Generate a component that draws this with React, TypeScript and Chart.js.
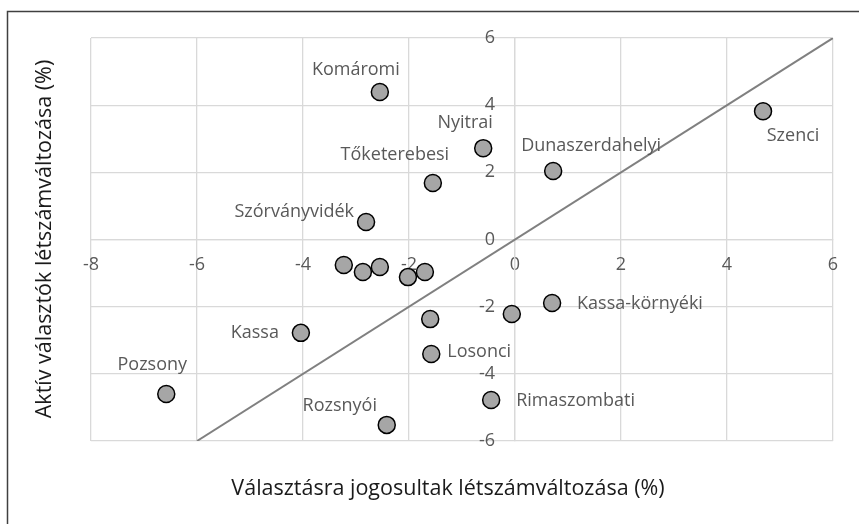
import React, { useEffect, useRef } from 'react';
import { Chart, registerables } from 'chart.js';

Chart.register(...registerables);

// ---- data ----
const districts = [
  'Pozsony', 'Kassa', 'Rozsnyói', 'Komáromi', 'Szórványvidék', 'Tőketerebesi',
  'Nyitrai', 'Dunaszerdahelyi', 'Szenci', 'Kassa-környéki', 'Losonci', 'Rimaszombati',
  '', '', '', '', '', '', '',
];
const eligibleChange = [
  -6.58, -4.04, -2.42, -2.55, -2.81, -1.55,
  -0.60, 0.72, 4.68, 0.70, -1.58, -0.45,
  -0.06, -1.60, -3.23, -2.87, -2.55, -2.02, -1.70,
];
const activeChange = [
  -4.60, -2.78, -5.52, 4.39, 0.52, 1.68,
  2.72, 2.04, 3.82, -1.89, -3.41, -4.78,
  -2.22, -2.37, -0.76, -0.97, -0.82, -1.12, -0.97,
];
const referenceLineX = [-6, 6];
const referenceLineY = [-6, 6];
const xTickValues = [-8, -6, -4, -2, 0, 2, 4, 6];
const yTickValues = [-6, -4, -2, 0, 2, 4, 6];
const xAxisTitle = 'Választásra jogosultak létszámváltozása (%)';
const yAxisTitle = 'Aktív választók létszámváltozása (%)';

// ---- label placement (styling, pixel offsets from the point) ----
const labelPlacement: Record<string, [number, number, CanvasTextAlign]> = {
  'Pozsony': [-14, -29, 'center'],
  'Kassa': [-22, 0, 'right'],
  'Rozsnyói': [-47, -19, 'center'],
  'Komáromi': [-24, -22, 'center'],
  'Szórványvidék': [-12, -10, 'right'],
  'Tőketerebesi': [-38, -28, 'center'],
  'Nyitrai': [-18, -25, 'center'],
  'Dunaszerdahelyi': [38, -25, 'center'],
  'Szenci': [30, 25, 'center'],
  'Kassa-környéki': [25, 1, 'left'],
  'Losonci': [16, -2, 'left'],
  'Rimaszombati': [25, 1, 'left'],
};

const FONT = '"Open Sans", sans-serif';
const TICK_COLOR = '#595959';

const decorPlugin = {
  id: 'decor',
  beforeDatasetsDraw(chart: any) {
    // y-axis tick labels, placed left of the crossing axis
    const ctx = chart.ctx;
    const xs = chart.scales.x;
    const ys = chart.scales.y;
    const axisX = xs.getPixelForValue(0);
    ctx.save();
    ctx.font = `18px ${FONT}`;
    ctx.fillStyle = TICK_COLOR;
    ctx.textAlign = 'right';
    ctx.textBaseline = 'middle';
    yTickValues.forEach((v) => {
      ctx.fillText(String(v), axisX - 20, ys.getPixelForValue(v));
    });
    ctx.restore();
  },
  afterDatasetsDraw(chart: any) {
    const ctx = chart.ctx;
    const meta = chart.getDatasetMeta(0);
    ctx.save();
    ctx.font = `18px ${FONT}`;
    ctx.fillStyle = '#595959';
    ctx.textBaseline = 'middle';
    meta.data.forEach((el: any, i: number) => {
      const name = districts[i];
      if (!name) return;
      const p = labelPlacement[name] || [0, -20, 'center'];
      ctx.textAlign = p[2];
      ctx.fillText(name, el.x + p[0], el.y + p[1]);
    });
    ctx.restore();
  },
  afterDraw(chart: any) {
    const ctx = chart.ctx;
    const a = chart.chartArea;
    ctx.save();
    ctx.fillStyle = '#1a1a1a';
    ctx.font = `21.5px ${FONT}`;
    ctx.textAlign = 'center';
    ctx.textBaseline = 'middle';
    ctx.fillText(xAxisTitle, 448, 489);
    ctx.translate(45, 239);
    ctx.rotate(-Math.PI / 2);
    ctx.fillText(yAxisTitle, 0, 0);
    ctx.restore();
    ctx.save();
    ctx.strokeStyle = '#404040';
    ctx.lineWidth = 1.5;
    ctx.strokeRect(7.5, 11.5, 1000, 1000);
    ctx.restore();
  },
};

export default function App() {
  const ref = useRef<HTMLCanvasElement>(null);
  useEffect(() => {
    if (!ref.current) return;
    const chart = new Chart(ref.current, {
      type: 'scatter',
      data: {
        datasets: [
          {
            label: 'Járások',
            data: eligibleChange.map((x, i) => ({ x, y: activeChange[i] })),
            backgroundColor: '#a6a6a6',
            borderColor: '#000000',
            borderWidth: 1.5,
            pointRadius: 8.5,
            pointHoverRadius: 8.5,
          },
          {
            type: 'line',
            label: 'x = y',
            data: referenceLineX.map((x, i) => ({ x, y: referenceLineY[i] })),
            borderColor: '#808080',
            borderWidth: 2,
            pointRadius: 0,
            fill: false,
          },
        ],
      },
      options: {
        animation: false,
        responsive: false,
        layout: { padding: { left: 91, top: 38, right: 26, bottom: 83 } },
        plugins: { legend: { display: false }, tooltip: { enabled: false } },
        scales: {
          x: {
            type: 'linear',
            position: { y: 0 },
            min: xTickValues[0],
            max: xTickValues[xTickValues.length - 1],
            afterBuildTicks: (s: any) => { s.ticks = xTickValues.map((v) => ({ value: v })); },
            ticks: { color: TICK_COLOR, font: { family: FONT, size: 18 }, padding: 15 },
            grid: { color: '#d9d9d9', lineWidth: 1.3, drawTicks: false },
            border: { color: '#d9d9d9', width: 1.3 },
          },
          y: {
            type: 'linear',
            position: { x: 0 },
            min: yTickValues[0],
            max: yTickValues[yTickValues.length - 1],
            afterBuildTicks: (s: any) => { s.ticks = yTickValues.map((v) => ({ value: v })); },
            ticks: { display: false },
            grid: { color: '#d9d9d9', lineWidth: 1.3, drawTicks: false },
            border: { color: '#d9d9d9', width: 1.3 },
          },
        },
      },
      plugins: [decorPlugin],
    });
    return () => chart.destroy();
  }, []);
  return (
    <canvas
      ref={ref}
      width={859}
      height={524}
      style={{ position: 'absolute', left: 0, top: 0, width: 859, height: 524, background: '#fff' }}
    />
  );
}
